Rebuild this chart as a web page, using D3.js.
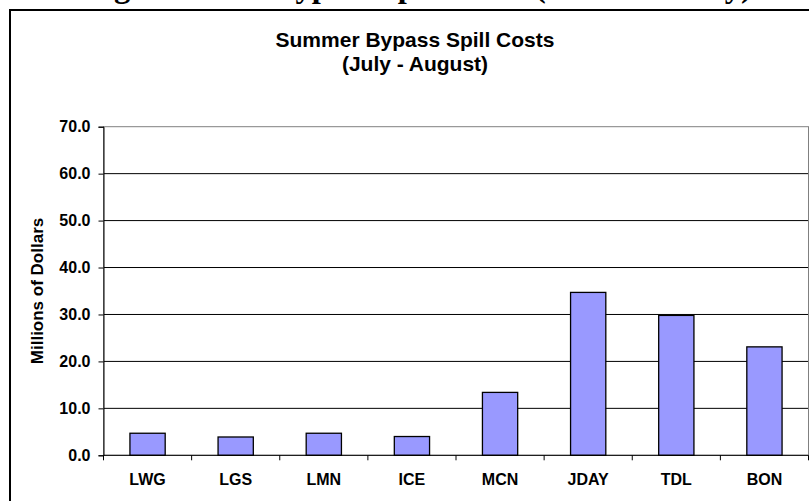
<!DOCTYPE html>
<html>
<head>
<meta charset="utf-8">
<script src="https://cdn.jsdelivr.net/npm/d3@7"></script>
<style>
  html, body { margin: 0; padding: 0; background: #fff; }
  svg { display: block; }
  text { font-family: Arial, "Liberation Sans", sans-serif; font-weight: bold; fill: #000; }
</style>
</head>
<body>
<svg id="chart" width="809" height="501"></svg>
<script>
// Projects along the river, in upstream-to-downstream order
const projects = ["LWG", "LGS", "LMN", "ICE", "MCN", "JDAY", "TDL", "BON"];
// Summer bypass spill cost per project, millions of dollars
const costs = [4.7, 3.9, 4.7, 4.0, 13.4, 34.7, 29.8, 23.1];
// Value axis ticks
const yTicks = [0, 10, 20, 30, 40, 50, 60, 70];

const pageCaption = "Figure 4. Net Bypass Spill Costs (Summer Only)";
const chartTitle = ["Summer Bypass Spill Costs", "(July - August)"];
const yTitle = "Millions of Dollars";

const svg = d3.select("#chart");
const W = 809, H = 501;

// Plot area
const plot = { left: 103.5, right: 808.5, top: 126.7, bottom: 455.3 };

const x = d3.scaleBand()
  .domain(projects)
  .range([plot.left, plot.right])
  .paddingInner(0.6)
  .paddingOuter(0.3);

const y = d3.scaleLinear()
  .domain([0, 70])
  .range([plot.bottom, plot.top]);

// Document caption, running off the top of the page
svg.append("text")
  .attr("x", 85)
  .attr("y", -3.5)
  .style("font-family", "'Liberation Serif', 'Times New Roman', serif")
  .style("font-size", "32.5px")
  .text(pageCaption);

// Chart frame (left and top edges fall inside the page)
svg.append("path")
  .attr("d", `M10,${H + 2} L10,10 L${W + 2},10`)
  .attr("fill", "none")
  .attr("stroke", "#000")
  .attr("stroke-width", 2);

// Title
const title = svg.append("text")
  .attr("text-anchor", "middle")
  .style("font-size", "21px");
title.selectAll("tspan")
  .data(chartTitle)
  .join("tspan")
  .attr("x", 415)
  .attr("y", (d, i) => 47 + i * 24)
  .text(d => d);

// Horizontal gridlines (top one is the plot border)
svg.append("g")
  .selectAll("line")
  .data(yTicks.filter(d => d > 0 && d < 70))
  .join("line")
  .attr("x1", plot.left)
  .attr("x2", plot.right)
  .attr("y1", d => y(d))
  .attr("y2", d => y(d))
  .attr("stroke", "#000")
  .attr("stroke-width", 1);

// Plot area border
svg.append("rect")
  .attr("x", plot.left)
  .attr("y", plot.top)
  .attr("width", plot.right - plot.left)
  .attr("height", plot.bottom - plot.top)
  .attr("fill", "none")
  .attr("stroke", "#808080")
  .attr("stroke-width", 1);

// Bars
svg.append("g")
  .selectAll("rect")
  .data(projects.map((p, i) => ({ p, v: costs[i] })))
  .join("rect")
  .attr("x", d => x(d.p))
  .attr("y", d => y(d.v))
  .attr("width", x.bandwidth())
  .attr("height", d => y(0) - y(d.v))
  .attr("fill", "#9999FF")
  .attr("stroke", "#000")
  .attr("stroke-width", 1.3);

// Y axis
const yAxis = svg.append("g")
  .attr("transform", `translate(${plot.left},0)`)
  .call(d3.axisLeft(y).tickValues(yTicks).tickFormat(d3.format(".1f")).tickSizeOuter(0).tickSize(5).tickPadding(8));
yAxis.select(".domain").attr("stroke", "#000");
yAxis.selectAll(".tick line").attr("stroke", "#000");
yAxis.selectAll(".tick text")
  .style("font-size", "16px")
  .style("font-family", "Arial, 'Liberation Sans', sans-serif")
  .attr("fill", "#000");

// X axis: category ticks at band boundaries
const step = x.step();
const bounds = d3.range(projects.length + 1).map(i => plot.left + i * step);
const xAxisG = svg.append("g");
xAxisG.append("line")
  .attr("x1", plot.left).attr("x2", plot.right)
  .attr("y1", y(0)).attr("y2", y(0))
  .attr("stroke", "#000");
xAxisG.selectAll("line.tick")
  .data(bounds)
  .join("line")
  .attr("class", "tick")
  .attr("x1", d => d).attr("x2", d => d)
  .attr("y1", y(0)).attr("y2", y(0) + 5)
  .attr("stroke", "#000");
xAxisG.selectAll("text")
  .data(projects)
  .join("text")
  .attr("x", d => x(d) + x.bandwidth() / 2)
  .attr("y", 485)
  .attr("text-anchor", "middle")
  .style("font-size", "16px")
  .text(d => d);

// Y axis title
svg.append("text")
  .attr("transform", `translate(43,${(plot.top + plot.bottom) / 2}) rotate(-90)`)
  .attr("text-anchor", "middle")
  .style("font-size", "17px")
  .text(yTitle);
</script>
</body>
</html>
